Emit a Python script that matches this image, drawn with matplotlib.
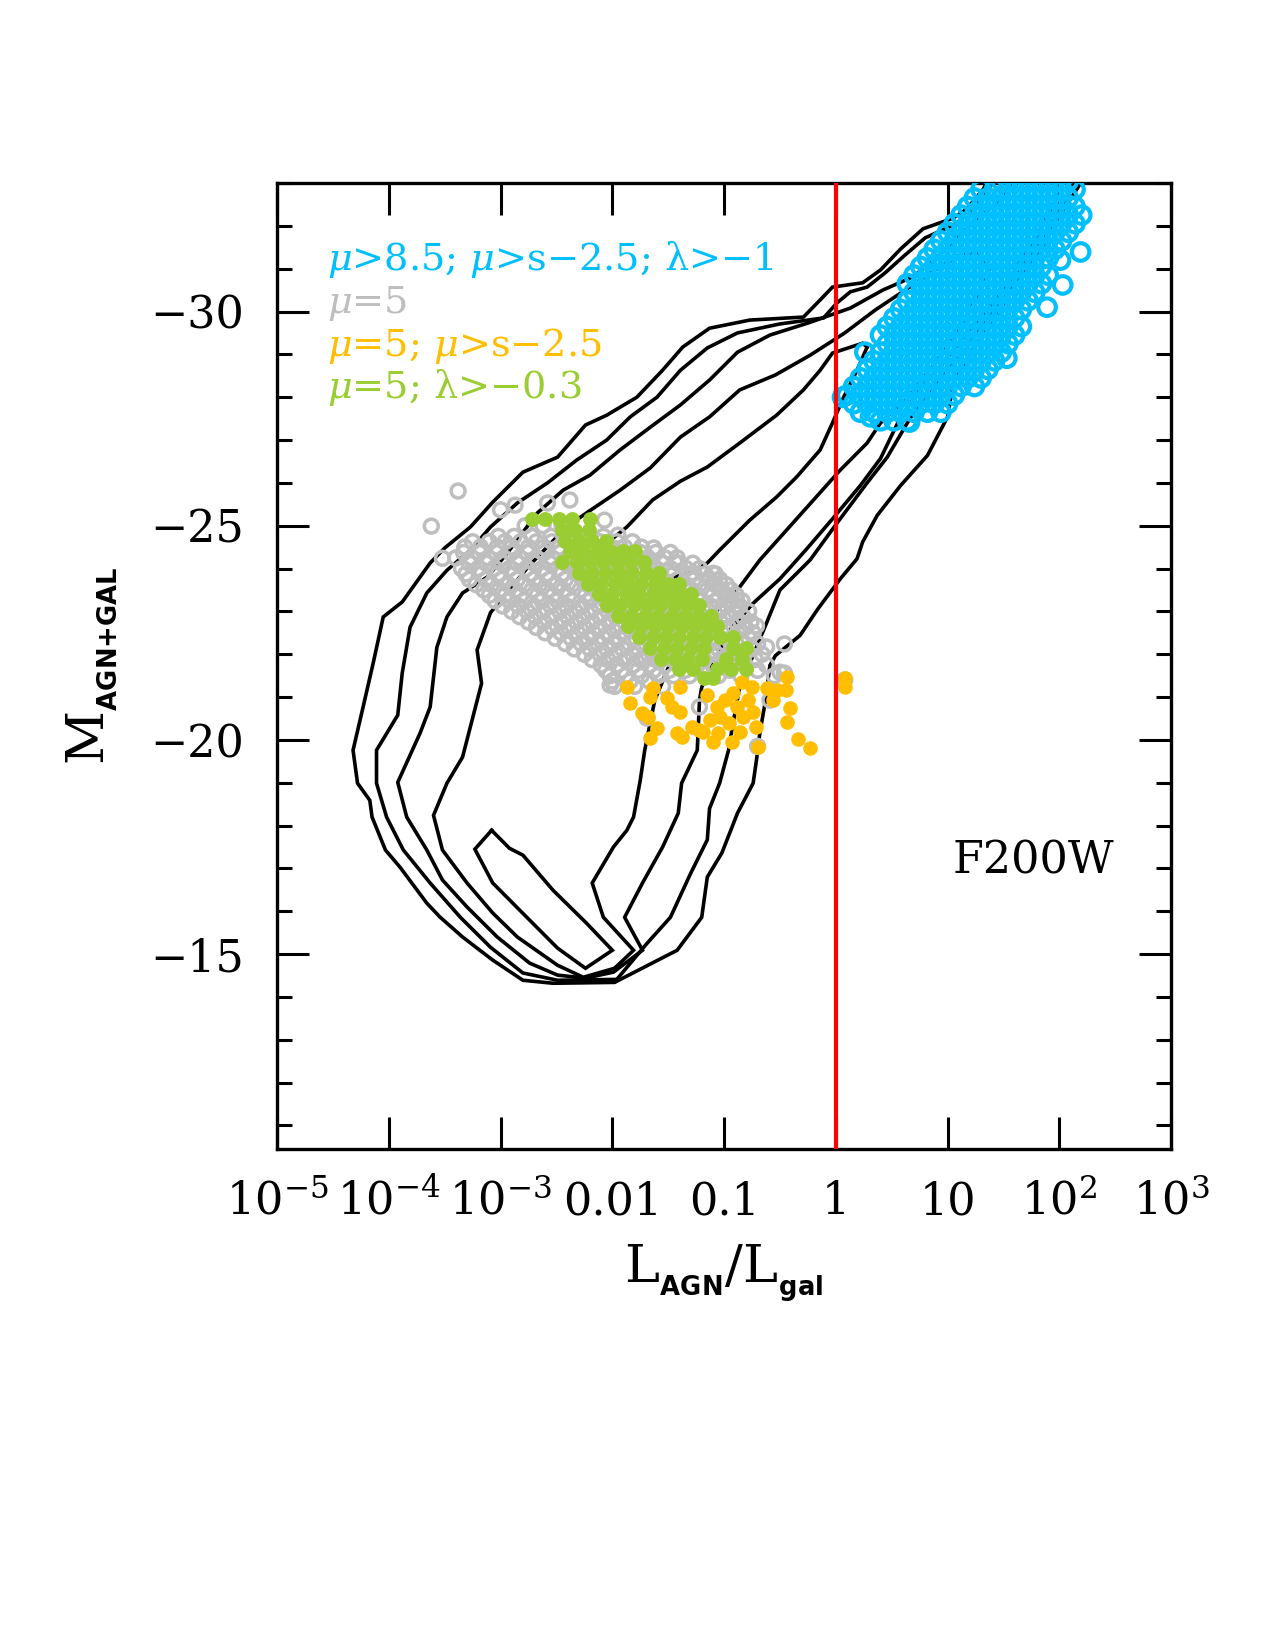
import matplotlib
matplotlib.use('Agg')
import matplotlib.pyplot as plt
import numpy as np
from matplotlib.ticker import MultipleLocator, LogLocator, NullFormatter, FixedLocator

plt.rcParams['font.family'] = ['DejaVu Serif']
plt.rcParams['mathtext.fontset'] = 'custom'
plt.rcParams['mathtext.rm'] = 'DejaVu Serif'
plt.rcParams['mathtext.it'] = 'DejaVu Serif:italic'
plt.rcParams['mathtext.bf'] = 'DejaVu Sans:bold'

# density contours, (log10 L_AGN/L_gal, M_AGN+GAL); a,b,c leave through the top
contour_a = [(1.38, -33.16), (1.32, -32.86), (1.17, -32.39), (1.05, -32.18), (0.78, -31.93), (0.58, -31.46),
             (0.40, -30.97), (0.24, -30.67), (-0.03, -30.57), (-0.14, -30.27), (-0.29, -29.87), (-0.77, -29.80),
             (-1.13, -29.61), (-1.37, -29.17), (-1.55, -28.63), (-1.78, -28.00), (-2.05, -27.58), (-2.24, -27.35),
             (-2.49, -26.60), (-2.80, -26.25), (-3.07, -25.55), (-3.27, -24.97), (-3.50, -24.48), (-3.63, -24.13),
             (-3.88, -23.22), (-4.05, -22.87), (-4.14, -21.79), (-4.23, -20.77), (-4.32, -19.76), (-4.28, -18.99),
             (-4.17, -18.59), (-4.15, -18.20), (-4.03, -17.43), (-3.90, -17.03), (-3.66, -16.19), (-3.54, -15.86),
             (-3.34, -15.40), (-3.07, -14.86), (-2.80, -14.39), (-2.53, -14.32), (-1.98, -14.34), (-1.42, -15.09),
             (-1.20, -15.86), (-1.15, -16.80), (-1.02, -17.36), (-0.88, -18.29), (-0.74, -18.99), (-0.71, -19.53),
             (-0.68, -20.16), (-0.63, -20.91), (-0.59, -21.74), (-0.54, -21.97), (-0.32, -22.44), (-0.16, -23.06),
             (0.04, -23.76), (0.19, -24.23), (0.24, -24.62), (0.37, -25.24), (0.58, -25.94), (0.82, -26.64),
             (1.00, -27.54), (1.05, -28.33), (1.25, -29.22), (1.43, -29.85), (1.62, -30.74), (1.83, -31.44),
             (2.01, -32.25), (2.23, -33.16)]

contour_b = [(1.44, -33.16), (1.36, -32.84), (1.22, -32.37), (1.07, -32.04), (0.80, -31.72), (0.62, -31.32),
             (0.44, -30.90), (0.28, -30.57), (0.13, -30.46), (0.01, -30.20), (-0.11, -29.85), (-0.50, -29.71),
             (-0.88, -29.50), (-1.15, -29.15), (-1.39, -28.63), (-1.60, -28.00), (-1.84, -27.54), (-2.05, -27.00),
             (-2.32, -26.53), (-2.58, -26.00), (-2.85, -25.53), (-3.09, -24.97), (-3.27, -24.43), (-3.48, -23.96),
             (-3.66, -23.43), (-3.81, -22.63), (-3.88, -21.56), (-3.92, -20.58), (-4.11, -19.76), (-4.11, -18.99),
             (-4.02, -18.20), (-3.87, -17.43), (-3.63, -16.66), (-3.36, -15.86), (-3.09, -15.16), (-2.80, -14.56),
             (-2.49, -14.39), (-1.96, -14.41), (-1.69, -15.25), (-1.48, -15.86), (-1.30, -16.88), (-1.15, -17.67),
             (-1.13, -18.40), (-1.04, -18.99), (-0.96, -19.76), (-0.92, -20.39), (-0.86, -21.23), (-0.72, -22.10),
             (-0.62, -22.73), (-0.50, -23.50), (-0.23, -24.20), (0.01, -25.06), (0.28, -26.00), (0.46, -26.60),
             (0.64, -27.40), (0.75, -27.86), (0.93, -28.40), (1.16, -29.10), (1.38, -29.92), (1.56, -30.62),
             (1.74, -31.32), (1.92, -32.02), (2.05, -32.60), (2.17, -33.16)]

contour_c = [(1.65, -33.16), (1.47, -32.60), (1.20, -32.02), (0.93, -31.32), (0.69, -30.81), (0.42, -30.50),
             (0.13, -30.08), (-0.25, -29.73), (-0.59, -29.45), (-0.88, -29.05), (-1.13, -28.40), (-1.39, -27.82),
             (-1.66, -27.30), (-1.93, -26.77), (-2.20, -26.18), (-2.44, -25.83), (-2.67, -25.30), (-2.94, -24.36),
             (-3.12, -23.80), (-3.34, -23.43), (-3.48, -22.87), (-3.57, -22.16), (-3.63, -20.77), (-3.72, -20.16),
             (-3.92, -19.01), (-3.84, -18.20), (-3.66, -17.43), (-3.52, -16.73), (-3.30, -16.10), (-3.03, -15.40),
             (-2.74, -14.79), (-2.49, -14.51), (-2.24, -14.44), (-1.99, -14.58), (-1.73, -15.09), (-1.89, -15.86),
             (-1.73, -16.66), (-1.55, -17.50), (-1.41, -18.29), (-1.38, -18.99), (-1.24, -19.76), (-1.22, -20.93),
             (-1.20, -21.23), (-1.08, -21.86), (-0.95, -22.56), (-0.74, -23.19), (-0.50, -23.76), (-0.26, -24.46),
             (-0.03, -25.16), (0.22, -25.94), (0.40, -26.57), (0.58, -27.54), (0.75, -28.17), (0.98, -28.87),
             (1.20, -29.57), (1.43, -30.27), (1.60, -30.97), (1.78, -31.67), (1.92, -32.37), (2.05, -33.16)]

contour_d = [(-3.00, -23.26), (-2.74, -24.08), (-2.41, -24.97), (-2.23, -25.30), (-1.93, -25.83), (-1.66, -26.35),
             (-1.39, -27.07), (-1.13, -27.54), (-0.86, -28.17), (-0.54, -28.52), (-0.23, -28.98), (0.08, -29.50),
             (0.35, -30.03), (0.62, -30.50), (0.89, -30.97), (1.11, -31.32), (1.27, -31.39), (1.38, -31.02),
             (1.25, -30.27), (1.07, -29.45), (0.84, -28.63), (0.62, -27.93), (0.40, -27.40), (0.28, -26.93),
             (0.04, -26.30), (-0.20, -25.60), (-0.44, -24.90), (-0.68, -24.20), (-0.88, -23.50), (-1.08, -22.98),
             (-1.30, -22.33), (-1.50, -21.68), (-1.62, -20.93), (-1.71, -19.76), (-1.75, -19.06), (-1.81, -18.20),
             (-1.87, -17.89), (-1.99, -17.50), (-2.18, -16.66), (-2.08, -15.86), (-1.81, -15.09), (-1.98, -14.67),
             (-2.26, -14.46), (-2.49, -14.74), (-2.85, -15.40), (-3.07, -15.96), (-3.30, -16.66), (-3.52, -17.43),
             (-3.60, -18.24), (-3.48, -18.99), (-3.34, -19.60), (-3.17, -21.32), (-3.21, -22.10), (-3.09, -22.97),
             (-3.00, -23.26)]

contour_e = [(0.28, -29.17), (0.19, -28.63), (0.07, -28.00), (-0.03, -27.40), (-0.14, -26.77), (-0.35, -26.14),
             (-0.53, -25.67), (-0.77, -25.13), (-1.04, -24.43), (-1.15, -24.13), (-1.30, -23.89), (-1.57, -23.73),
             (-1.84, -23.89), (-2.11, -24.29), (-2.05, -24.59), (-1.87, -24.97), (-1.64, -25.60), (-1.39, -26.04),
             (-1.15, -26.37), (-0.86, -26.93), (-0.53, -27.58), (-0.29, -28.17), (-0.14, -28.63), (-0.03, -29.03),
             (0.24, -29.26), (0.28, -29.17)]

contour_f = [(-3.08, -17.89), (-3.23, -17.45), (-3.07, -16.66), (-2.83, -16.03), (-2.49, -15.14), (-2.24, -14.67),
             (-2.00, -15.09), (-2.23, -15.72), (-2.53, -16.49), (-2.80, -17.31), (-2.92, -17.47), (-3.08, -17.89)]

# mu=5 sample (open grey), rows of (M, log10 ratios)
grey_rows = [(-25.0, [-2.78, -2.62, -2.45]),
             (-24.75, [-3.02, -2.88, -2.72, -2.55, -2.40, -2.24, -2.08]),
             (-24.625, [-3.25, -3.10, -2.96, -2.82, -2.68, -2.54, -2.39, -2.25, -2.11, -1.96, -1.82]),
             (-24.5, [-3.32, -3.18, -3.03, -2.90, -2.75, -2.61, -2.47, -2.32, -2.18, -2.03, -1.89, -1.74]),
             (-24.375, [-3.33, -3.19, -3.04, -2.90, -2.76, -2.61, -2.47, -2.33, -2.18, -2.04, -1.90, -1.75,
                        -1.61, -1.48]),
             (-24.25, [-3.40, -3.26, -3.11, -2.97, -2.83, -2.68, -2.54, -2.40, -2.25, -2.11, -1.97, -1.82, -1.68,
                       -1.53, -1.42]),
             (-24.125, [-3.28, -3.13, -2.99, -2.85, -2.70, -2.56, -2.42, -2.27, -2.13, -1.99, -1.84, -1.70,
                        -1.55, -1.41, -1.28]),
             (-24.0, [-3.35, -3.20, -3.06, -2.92, -2.77, -2.63, -2.49, -2.34, -2.20, -2.06, -1.91, -1.77, -1.62,
                      -1.48, -1.34, -1.22]),
             (-23.875, [-3.31, -3.17, -3.02, -2.88, -2.74, -2.59, -2.45, -2.31, -2.16, -2.02, -1.88, -1.73,
                        -1.59, -1.45, -1.30, -1.17, -1.08]),
             (-23.75, [-3.28, -3.13, -2.99, -2.85, -2.70, -2.56, -2.42, -2.27, -2.13, -1.99, -1.84, -1.70, -1.55,
                       -1.41, -1.27, -1.13, -1.04]),
             (-23.625, [-3.22, -3.08, -2.93, -2.79, -2.65, -2.50, -2.36, -2.22, -2.07, -1.93, -1.79, -1.64,
                        -1.50, -1.36, -1.22, -1.08, -0.98]),
             (-23.5, [-3.15, -3.01, -2.87, -2.72, -2.58, -2.44, -2.29, -2.15, -2.01, -1.86, -1.72, -1.58, -1.43,
                      -1.29, -1.15, -1.02, -0.94]),
             (-23.375, [-3.10, -2.96, -2.82, -2.67, -2.53, -2.39, -2.24, -2.10, -1.96, -1.81, -1.67, -1.53,
                        -1.38, -1.24, -1.10, -0.97, -0.89]),
             (-23.25, [-3.05, -2.92, -2.78, -2.63, -2.49, -2.35, -2.20, -2.06, -1.92, -1.77, -1.63, -1.49, -1.34,
                       -1.20, -1.06, -0.93, -0.84]),
             (-23.125, [-2.98, -2.84, -2.70, -2.55, -2.41, -2.27, -2.12, -1.98, -1.84, -1.69, -1.55, -1.41,
                        -1.26, -1.12, -0.98, -0.86]),
             (-23.0, [-2.90, -2.76, -2.62, -2.47, -2.33, -2.19, -2.04, -1.90, -1.76, -1.61, -1.47, -1.33, -1.18,
                      -1.04, -0.90, -0.78]),
             (-22.875, [-2.83, -2.69, -2.54, -2.40, -2.26, -2.11, -1.97, -1.83, -1.68, -1.54, -1.40, -1.25,
                        -1.11, -0.97, -0.83]),
             (-22.75, [-2.75, -2.61, -2.46, -2.32, -2.18, -2.03, -1.89, -1.75, -1.60, -1.46, -1.32, -1.17, -1.03,
                       -0.89, -0.76]),
             (-22.625, [-2.68, -2.54, -2.39, -2.25, -2.11, -1.96, -1.82, -1.68, -1.53, -1.39, -1.25, -1.10,
                        -0.96, -0.81]),
             (-22.5, [-2.60, -2.46, -2.31, -2.17, -2.03, -1.88, -1.74, -1.60, -1.45, -1.31, -1.17, -1.02, -0.88,
                      -0.74]),
             (-22.375, [-2.51, -2.37, -2.22, -2.08, -1.94, -1.79, -1.65, -1.51, -1.36, -1.22, -1.08, -0.93,
                        -0.78]),
             (-22.25, [-2.42, -2.28, -2.13, -1.99, -1.85, -1.70, -1.56, -1.42, -1.27, -1.13, -0.99, -0.84, -0.70]),
             (-22.125, [-2.34, -2.20, -2.05, -1.91, -1.77, -1.62, -1.48, -1.34, -1.19, -1.05, -0.91, -0.75]),
             (-22.0, [-2.25, -2.11, -1.97, -1.82, -1.68, -1.54, -1.39, -1.25, -1.11, -0.96, -0.82, -0.66]),
             (-21.875, [-2.18, -2.04, -1.89, -1.75, -1.61, -1.46, -1.32, -1.18, -1.03, -0.88, -0.72]),
             (-21.75, [-2.10, -1.96, -1.81, -1.67, -1.53, -1.38, -1.24, -1.10, -0.95, -0.81, -0.62]),
             (-21.625, [-2.06, -1.92, -1.77, -1.63, -1.49, -1.35, -1.20, -0.95, -0.70]),
             (-21.5, [-2.02, -1.88, -1.74, -1.59, -1.45, -1.31, -1.05, -0.85, -0.55]),
             (-21.375, [-2.00, -1.84, -1.67]),
             (-21.25, [-1.98, -1.80, -1.55])]
grey_extra = [(-3.38, -25.81), (-3.62, -24.99), (-3.52, -24.24), (-2.87, -25.48), (-2.58, -25.53),
              (-2.38, -25.60), (-3.00, -25.37), (-2.07, -25.13), (-1.95, -24.78), (-1.63, -24.48),
              (-1.44, -24.15), (-1.27, -23.89), (-1.10, -23.89), (-0.89, -23.26), (-0.71, -22.66),
              (-0.62, -22.17), (-0.46, -22.24), (-0.46, -21.56), (-0.70, -19.85), (0.08, -21.40),
              (-0.59, -20.93), (-1.22, -20.77), (-1.69, -20.51), (-0.50, -21.58), (-2.02, -21.28)]

# mu=5; mu>s-2.5 (filled orange)
orange_lx = [-1.87, -1.84, -1.73, -1.68, -1.66, -1.60, -1.66, -1.64, -1.51, -1.47, -1.39, -1.39, -1.42, -1.38,
             -1.29, -1.22, -1.15, -1.10, -1.06, -1.04, -0.99, -0.93, -0.92, -0.88, -0.86, -0.84, -0.79, -0.75,
             -0.74, -0.71, -0.70, -0.62, -0.56, -0.53, -0.45, -0.44, -0.41, -0.44, -0.34, -0.23, 0.08, 0.08,
             -0.96, -1.13, -1.19, -0.83, -1.05]
orange_mag = [-21.23, -20.86, -20.63, -20.53, -20.04, -20.28, -21.00, -21.21, -20.98, -20.77, -21.23, -20.65,
              -20.16, -20.07, -20.30, -20.23, -21.05, -19.95, -20.77, -20.53, -20.93, -19.95, -21.09, -20.77,
              -20.18, -21.35, -20.93, -21.23, -20.65, -20.30, -19.83, -21.21, -20.93, -21.16, -21.16, -21.47,
              -20.74, -20.42, -20.02, -19.81, -21.44, -21.23, -20.39, -20.46, -20.18, -20.53, -20.16]

# mu=5; lambda>-0.3 (filled green)
green_rows = [(-25.15, [-2.72, -2.60, -2.48, -2.36, -2.20]),
              (-24.9, [-2.45, -2.33, -2.21]),
              (-24.65, [-2.42, -2.30, -2.18, -2.06]),
              (-24.4, [-2.38, -2.26, -2.14, -2.02, -1.90, -1.80]),
              (-24.15, [-2.45, -2.32, -2.20, -2.08, -1.96, -1.84, -1.72]),
              (-23.9, [-2.30, -2.18, -2.06, -1.94, -1.82, -1.70, -1.58]),
              (-23.65, [-2.22, -2.10, -1.98, -1.86, -1.74, -1.62, -1.50, -1.40]),
              (-23.4, [-2.12, -2.00, -1.88, -1.76, -1.64, -1.52, -1.40, -1.30]),
              (-23.15, [-2.05, -1.93, -1.81, -1.69, -1.57, -1.45, -1.33, -1.22]),
              (-22.9, [-1.95, -1.83, -1.71, -1.59, -1.47, -1.35, -1.23, -1.12]),
              (-22.65, [-1.86, -1.74, -1.62, -1.50, -1.38, -1.26, -1.14, -1.06]),
              (-22.4, [-1.76, -1.64, -1.52, -1.40, -1.28, -1.16, -1.04, -0.92]),
              (-22.15, [-1.66, -1.54, -1.42, -1.30, -1.18, -0.92, -0.80]),
              (-21.9, [-1.56, -1.44, -1.32, -1.20, -0.98, -0.84]),
              (-21.65, [-1.40, -1.28, -1.06, -0.94, -0.80]),
              (-21.45, [-1.18, -1.10])]

# mu>8.5; mu>s-2.5; lambda>-1 (open cyan)
cyan_rows = [(-27.45, [0.40, 0.52, 0.64]),
             (-27.65, [0.22, 0.34, 0.46, 0.58, 0.70, 0.82, 0.94]),
             (-27.85, [0.16, 0.28, 0.40, 0.52, 0.64, 0.76, 0.88, 1.00]),
             (-28.05, [0.10, 0.22, 0.34, 0.46, 0.58, 0.70, 0.82, 0.94, 1.06]),
             (-28.25, [0.16, 0.28, 0.40, 0.52, 0.64, 0.76, 0.88, 1.00, 1.12, 1.24]),
             (-28.45, [0.22, 0.34, 0.46, 0.58, 0.70, 0.82, 0.94, 1.06, 1.18, 1.30]),
             (-28.65, [0.28, 0.40, 0.52, 0.64, 0.76, 0.88, 1.00, 1.12, 1.24, 1.36]),
             (-28.85, [0.34, 0.46, 0.58, 0.70, 0.82, 0.94, 1.06, 1.18, 1.30, 1.42]),
             (-29.05, [0.40, 0.52, 0.64, 0.76, 0.88, 1.00, 1.12, 1.24, 1.36, 1.48]),
             (-29.25, [0.46, 0.58, 0.70, 0.82, 0.94, 1.06, 1.18, 1.30, 1.42, 1.54]),
             (-29.45, [0.40, 0.52, 0.64, 0.76, 0.88, 1.00, 1.12, 1.24, 1.36, 1.48, 1.60]),
             (-29.65, [0.46, 0.58, 0.70, 0.82, 0.94, 1.06, 1.18, 1.30, 1.42, 1.54, 1.66]),
             (-29.85, [0.52, 0.64, 0.76, 0.88, 1.00, 1.12, 1.24, 1.36, 1.48, 1.60]),
             (-30.05, [0.58, 0.70, 0.82, 0.94, 1.06, 1.18, 1.30, 1.42, 1.54, 1.66]),
             (-30.25, [0.64, 0.76, 0.88, 1.00, 1.12, 1.24, 1.36, 1.48, 1.60, 1.72]),
             (-30.45, [0.70, 0.82, 0.94, 1.06, 1.18, 1.30, 1.42, 1.54, 1.66, 1.78]),
             (-30.65, [0.64, 0.76, 0.88, 1.00, 1.12, 1.24, 1.36, 1.48, 1.60, 1.72, 1.84]),
             (-30.85, [0.70, 0.82, 0.94, 1.06, 1.18, 1.30, 1.42, 1.54, 1.66, 1.78, 1.90]),
             (-31.05, [0.76, 0.88, 1.00, 1.12, 1.24, 1.36, 1.48, 1.60, 1.72, 1.84]),
             (-31.25, [0.82, 0.94, 1.06, 1.18, 1.30, 1.42, 1.54, 1.66, 1.78, 1.90]),
             (-31.45, [0.88, 1.00, 1.12, 1.24, 1.36, 1.48, 1.60, 1.72, 1.84, 1.96]),
             (-31.65, [0.94, 1.06, 1.18, 1.30, 1.42, 1.54, 1.66, 1.78, 1.90, 2.02]),
             (-31.85, [1.00, 1.12, 1.24, 1.36, 1.48, 1.60, 1.72, 1.84, 1.96, 2.08]),
             (-32.05, [1.06, 1.18, 1.30, 1.42, 1.54, 1.66, 1.78, 1.90, 2.02, 2.14]),
             (-32.25, [1.12, 1.24, 1.36, 1.48, 1.60, 1.72, 1.84, 1.96, 2.08]),
             (-32.45, [1.18, 1.30, 1.42, 1.54, 1.66, 1.78, 1.90, 2.02, 2.14]),
             (-32.65, [1.24, 1.36, 1.48, 1.60, 1.72, 1.84, 1.96, 2.08]),
             (-32.85, [1.30, 1.42, 1.54, 1.66, 1.78, 1.90, 2.02, 2.14]),
             (-33.05, [1.48, 1.60, 1.72, 1.84, 1.96, 2.08])]
cyan_extra = [(0.06, -28.00), (0.26, -29.05), (0.31, -27.54), (0.66, -27.42), (1.53, -28.91),
              (1.89, -30.10), (2.03, -30.62), (2.19, -31.39), (2.20, -32.25), (2.01, -31.20)]

xtick_vals = [1e-5, 1e-4, 1e-3, 0.01, 0.1, 1, 10, 1e2, 1e3]
xtick_labels = [r'$10^{-5}$', r'$10^{-4}$', r'$10^{-3}$', '0.01', '0.1', '1', '10', r'$10^{2}$', r'$10^{3}$']

legend_lines = [(r'$\mu$>8.5; $\mu$>s−2.5; λ>−1', '#00BFFF'),
                (r'$\mu$=5', '#BEBEBE'),
                (r'$\mu$=5; $\mu$>s−2.5', '#FFBE00'),
                (r'$\mu$=5; λ>−0.3', '#9ACD32')]


def rows_to_xy(rows, extra=()):
    lx = [v for m, vals in rows for v in vals] + [p[0] for p in extra]
    mg = [m for m, vals in rows for v in vals] + [p[1] for p in extra]
    return 10 ** np.array(lx), np.array(mg)


fig = plt.figure(figsize=(12.75, 16.5), dpi=100)
ax = fig.add_axes([0.2173, 0.3036, 0.7012, 0.5855])

for cont in [contour_a, contour_b, contour_c, contour_d, contour_e, contour_f]:
    c = np.array(cont)
    ax.plot(10 ** c[:, 0], c[:, 1], color='black', lw=2.6, zorder=2, solid_joinstyle='miter')

gx, gy = rows_to_xy(grey_rows, grey_extra)
ax.scatter(gx, gy, s=100, facecolors='none', edgecolors='#BEBEBE', linewidths=2.5, zorder=3)
ax.scatter(10 ** np.array(orange_lx), orange_mag, s=110, color='#FFBE00', linewidths=0, zorder=4)
grx, gry = rows_to_xy(green_rows)
ax.scatter(grx, gry, s=115, color='#9ACD32', linewidths=0, zorder=5)
cx, cy = rows_to_xy(cyan_rows, cyan_extra)
ax.scatter(cx, cy, s=160, facecolors='none', edgecolors='#00BFFF', linewidths=3.0, zorder=6)

ax.axvline(1, color='red', lw=3, zorder=7)

ax.set_xscale('log')
ax.set_xlim(1e-5, 1e3)
ax.set_ylim(-10.45, -33)
ax.xaxis.set_major_locator(FixedLocator(xtick_vals))
ax.set_xticklabels(xtick_labels)
ax.xaxis.set_minor_locator(LogLocator(base=10, subs=np.arange(2, 10)))
ax.xaxis.set_minor_formatter(NullFormatter())
ax.yaxis.set_major_locator(MultipleLocator(5))
ax.yaxis.set_minor_locator(MultipleLocator(1))

ax.tick_params(which='both', direction='in', top=True, right=True, width=2.2, labelsize=32)
ax.tick_params(which='major', length=23)
ax.tick_params(which='minor', length=11)
ax.tick_params(axis='y', pad=24)
ax.tick_params(axis='x', pad=47)
for t in ax.xaxis.get_major_ticks():
    t.label1.set_verticalalignment('baseline')
for sp in ax.spines.values():
    sp.set_linewidth(2.4)

ax.set_xlabel(r'$\mathrm{L}_{_{\mathbf{AGN}}}/\mathrm{L}_{_{\mathbf{gal}}}$', fontsize=38)
ax.xaxis.set_label_coords(0.5, -0.097)
ax.set_ylabel(r'$\mathrm{M}_{_{\mathbf{AGN{+}GAL}}}$', fontsize=38)
ax.yaxis.set_label_coords(-0.176, 0.5)

for i, (txt, col) in enumerate(legend_lines):
    ax.text(0.056, 0.910 - i * 0.0443, txt, transform=ax.transAxes, fontsize=27.5, color=col,
            ha='left', va='baseline')

ax.text(0.755, 0.2857, 'F200W', transform=ax.transAxes, fontsize=32, ha='left', va='baseline')

fig.savefig('out.png', dpi=100)
